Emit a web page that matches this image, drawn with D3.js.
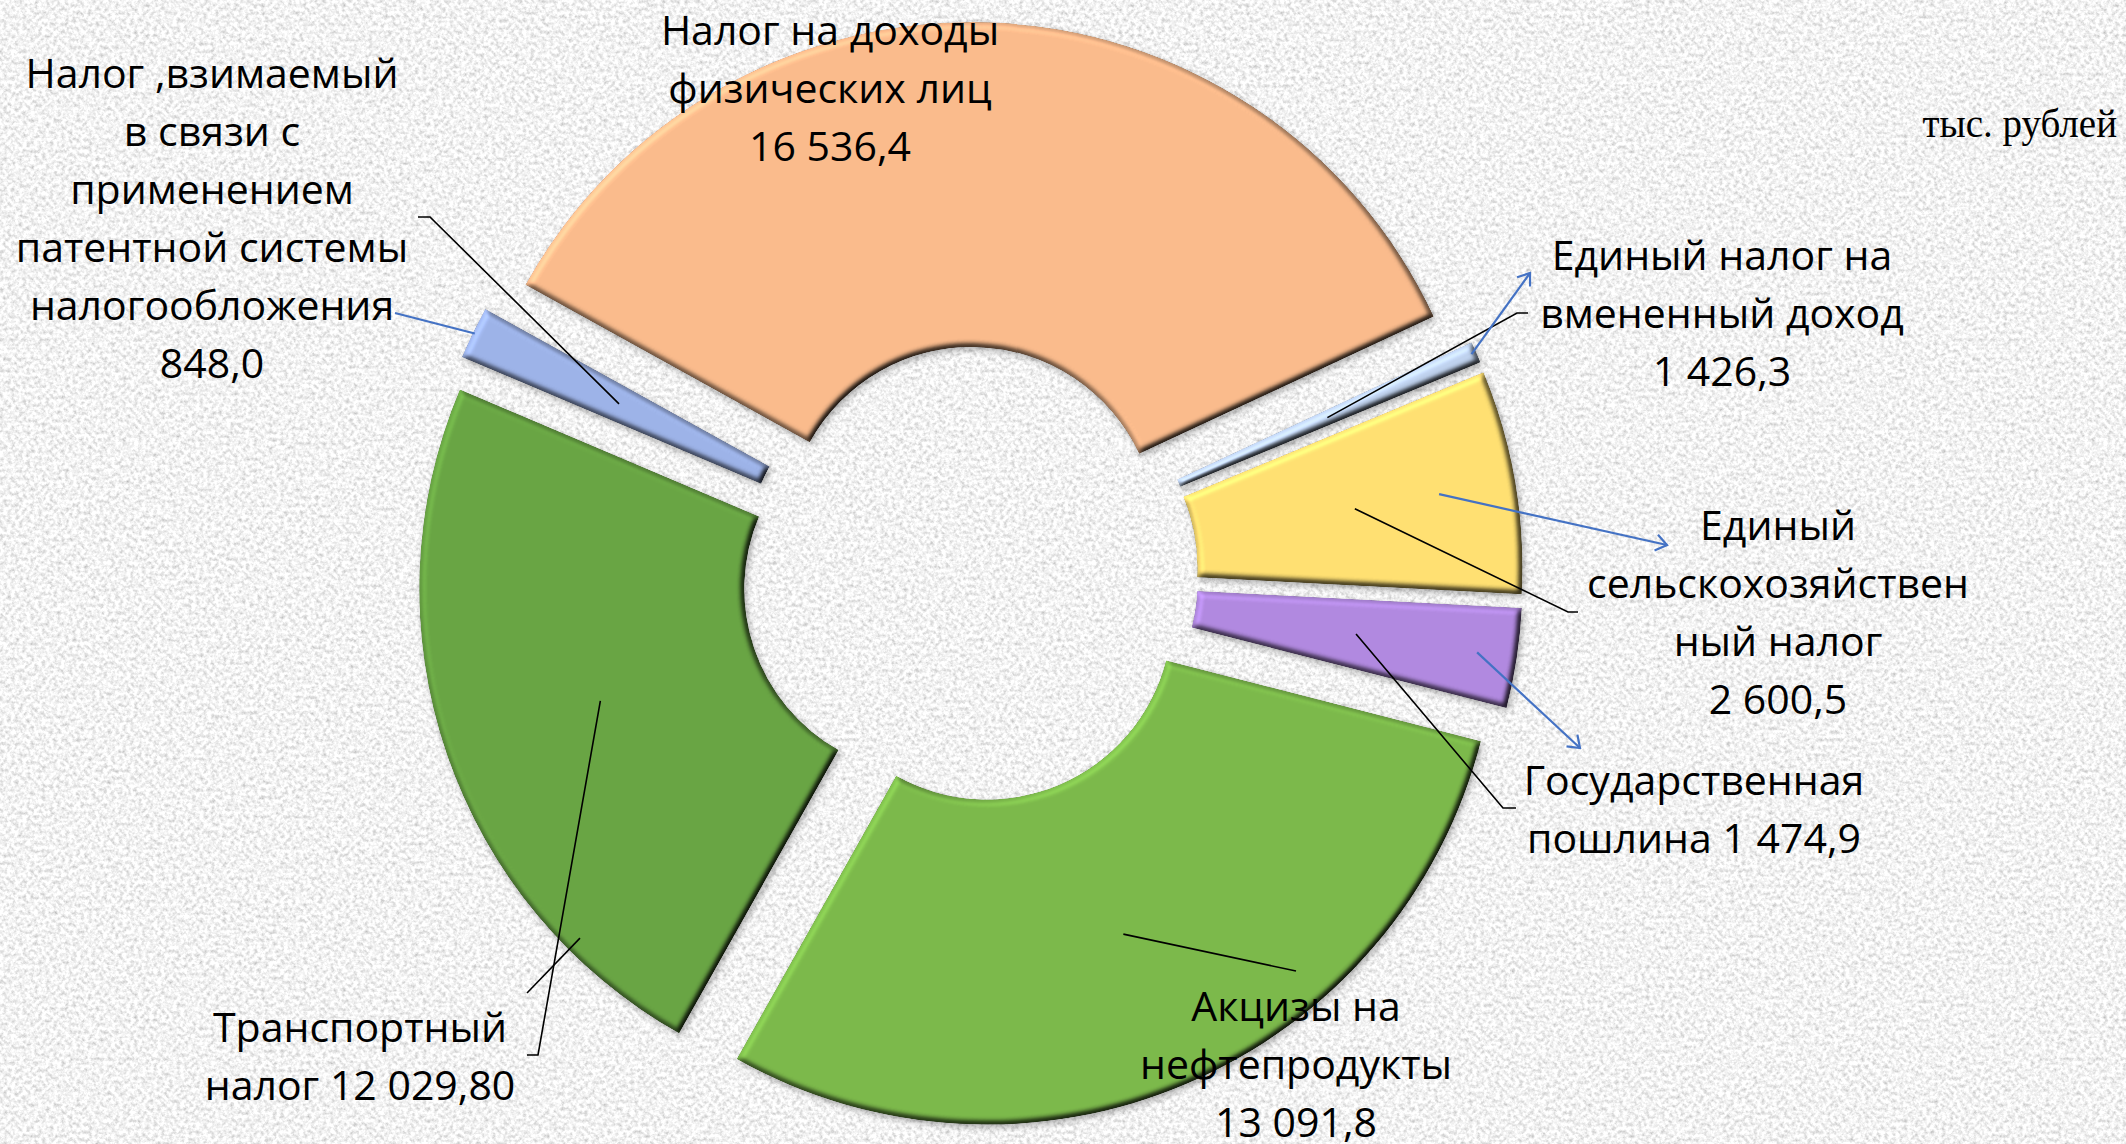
<!DOCTYPE html>
<html>
<head>
<meta charset="utf-8">
<script src="https://cdn.jsdelivr.net/npm/d3@7"></script>
<style>
  html, body { margin: 0; padding: 0; background: #e6e6e6; overflow: hidden; }
  svg { display: block; }
</style>
</head>
<body>
<svg id="DonutChart"></svg>
<script>
// slices clockwise, starting with the big one at the top
let categories = [
  "Налог на доходы физических лиц",
  "Единый налог на вмененный доход",
  "Единый сельскохозяйственный налог",
  "Государственная пошлина",
  "Акцизы на нефтепродукты",
  "Транспортный налог",
  "Налог ,взимаемый в связи с применением патентной системы налогообложения"
];

// values as printed on the chart, тыс. рублей
let labelValues = ["16 536,4", "1 426,3", "2 600,5", "1 474,9", "13 091,8", "12 029,80", "848,0"];

let sliceValues = [16800, 330, 3400, 1520, 14000, 11150, 800];

// label text broken into lines the way the chart shows it
let labelLines = [
  ["Налог на доходы", "физических лиц", "16 536,4"],
  ["Единый налог на", "вмененный доход", "1 426,3"],
  ["Единый", "сельскохозяйствен", "ный налог", "2 600,5"],
  ["Государственная", "пошлина 1 474,9"],
  ["Акцизы на", "нефтепродукты", "13 091,8"],
  ["Транспортный", "налог 12 029,80"],
  ["Налог ,взимаемый", "в связи с", "применением", "патентной системы", "налогообложения", "848,0"]
];

let unitLabel = "тыс. рублей";

function getConfig() {
  let width = 2126;
  let height = 1144;
  let container = d3.select("#DonutChart")
    .attr("width", width)
    .attr("height", height);

  return {
    width, height, container,
    cx: 970, cy: 575,
    innerRadius: 185, outerRadius: 510,
    explode: 43,
    startAngle: -61 * Math.PI / 180,
    colors: ["#fabb8c", "#bfd2ee", "#ffe072", "#b189e0", "#7cb94b", "#69a544", "#9db3e8"],
    font: "'Open Sans', 'Noto Sans', sans-serif",
    fontSize: 41,
    lineStep: 58,
    // centre x and first baseline of every label block
    labelPos: [[830, 45], [1722, 270], [1778, 540], [1694, 795], [1296, 1021], [360, 1042], [212, 88]],
    // black leader lines: from slice centroid through these points
    leaders: [
      { slice: 1, pts: [[1517, 313], [1528, 313]] },
      { slice: 2, pts: [[1568, 612], [1578, 612]] },
      { slice: 3, pts: [[1503, 808], [1516, 808]] },
      { slice: 4, pts: [[1296, 971]] },
      { slice: 5, pts: [[538, 1055], [527, 1055]] },
      { slice: 6, pts: [[430, 217], [418, 217]] },
      { slice: 5, r: 494, angle: 225, pts: [[527, 993]] }
    ],
    // hand drawn blue arrows
    arrows: [
      { slice: 1, r: 505, to: [1530, 273], head: true },
      { slice: 2, r: 433, to: [1667, 545], head: true },
      { slice: 3, r: 470, to: [1580, 748], head: true },
      { slice: 6, r: 508, to: [395, 313], head: false }
    ]
  };
}

function drawDefs(config) {
  let defs = config.container.append("defs");

  let paper = defs.append("filter").attr("id", "paper")
    .attr("x", 0).attr("y", 0).attr("width", "100%").attr("height", "100%");
  paper.append("feTurbulence")
    .attr("type", "fractalNoise").attr("baseFrequency", 0.26)
    .attr("numOctaves", 3).attr("seed", 7).attr("result", "n");
  paper.append("feColorMatrix").attr("in", "n").attr("type", "matrix")
    .attr("values", "0.85 0 0 0 0.47  0.85 0 0 0 0.47  0.85 0 0 0 0.47  0 0 0 0 1");

  let bevel = defs.append("filter").attr("id", "bevel")
    .attr("x", "-20%").attr("y", "-20%").attr("width", "140%").attr("height", "140%")
    .attr("color-interpolation-filters", "sRGB");
  bevel.append("feGaussianBlur").attr("in", "SourceAlpha").attr("stdDeviation", 3.2).attr("result", "blur");
  bevel.append("feDiffuseLighting").attr("in", "blur").attr("surfaceScale", 5.5)
    .attr("diffuseConstant", 1).attr("lighting-color", "#ffffff").attr("result", "light")
    .append("feDistantLight").attr("azimuth", 225).attr("elevation", 60);
  bevel.append("feComposite").attr("in", "SourceGraphic").attr("in2", "light")
    .attr("operator", "arithmetic").attr("k1", 1.155).attr("k2", 0).attr("k3", 0).attr("k4", 0)
    .attr("result", "lit");
  bevel.append("feComposite").attr("in", "lit").attr("in2", "SourceAlpha")
    .attr("operator", "in").attr("result", "shape");
  bevel.append("feGaussianBlur").attr("in", "SourceAlpha").attr("stdDeviation", 3).attr("result", "sb");
  bevel.append("feOffset").attr("in", "sb").attr("dx", 2).attr("dy", 3).attr("result", "so");
  bevel.append("feComponentTransfer").attr("in", "so").attr("result", "shadow")
    .append("feFuncA").attr("type", "linear").attr("slope", 0.3);
  let merge = bevel.append("feMerge");
  merge.append("feMergeNode").attr("in", "shadow");
  merge.append("feMergeNode").attr("in", "shape");

  defs.append("marker").attr("id", "arrowHead")
    .attr("viewBox", "-12 -10 14 20")
    .attr("refX", 0).attr("refY", 0)
    .attr("markerWidth", 14).attr("markerHeight", 20)
    .attr("markerUnits", "userSpaceOnUse")
    .attr("orient", "auto")
    .append("path")
    .attr("d", "M-11,-8 L0,0 L-11,8")
    .attr("fill", "none").attr("stroke", "#4472c4").attr("stroke-width", 2.2);
}

function drawBackground(config) {
  config.container.append("rect")
    .attr("width", config.width).attr("height", config.height)
    .attr("fill", "#e6e6e6")
    .attr("filter", "url(#paper)");
}

function getPie(config) {
  let pie = d3.pie().sort(null).value(d => d)
    .startAngle(config.startAngle)
    .endAngle(config.startAngle + 2 * Math.PI);
  let arc = d3.arc().innerRadius(config.innerRadius).outerRadius(config.outerRadius);
  return { slices: pie(sliceValues), arc };
}

function sliceOrigin(d, config) {
  let mid = (d.startAngle + d.endAngle) / 2;
  return [config.cx + Math.sin(mid) * config.explode, config.cy - Math.cos(mid) * config.explode];
}

function pointInSlice(d, r, angleDeg, config) {
  let o = sliceOrigin(d, config);
  let a = angleDeg === undefined ? (d.startAngle + d.endAngle) / 2 : angleDeg * Math.PI / 180;
  return [o[0] + Math.sin(a) * r, o[1] - Math.cos(a) * r];
}

function drawSlices(pieData, config) {
  let { slices, arc } = pieData;
  config.container.append("g").selectAll(".slice")
    .data(slices)
    .enter()
    .append("path")
    .attr("class", "slice")
    .attr("transform", d => `translate(${sliceOrigin(d, config)})`)
    .attr("d", arc)
    .attr("fill", (d, i) => config.colors[i])
    .attr("filter", "url(#bevel)");
}

function drawLeaders(pieData, config) {
  let { slices, arc } = pieData;
  let g = config.container.append("g");
  let line = d3.line();

  config.leaders.forEach(l => {
    let d = slices[l.slice];
    let start;
    if (l.r) {
      start = pointInSlice(d, l.r, l.angle, config);
    } else {
      let c = arc.centroid(d), o = sliceOrigin(d, config);
      start = [c[0] + o[0], c[1] + o[1]];
    }
    g.append("path")
      .attr("d", line([start].concat(l.pts)))
      .attr("fill", "none").attr("stroke", "#000").attr("stroke-width", 1.6);
  });

  config.arrows.forEach(a => {
    let start = pointInSlice(slices[a.slice], a.r, undefined, config);
    g.append("path")
      .attr("d", line([start, a.to]))
      .attr("fill", "none").attr("stroke", "#4472c4").attr("stroke-width", 2.2)
      .attr("marker-end", a.head ? "url(#arrowHead)" : null);
  });
}

function drawLabels(config) {
  let g = config.container.append("g")
    .style("font-family", config.font)
    .style("font-size", config.fontSize + "px")
    .attr("fill", "#000");

  labelLines.forEach((lines, i) => {
    let [x, y] = config.labelPos[i];
    let t = g.append("text").attr("text-anchor", "middle");
    lines.forEach((s, j) => {
      t.append("tspan").attr("x", x).attr("y", y + j * config.lineStep).text(s);
    });
  });

  config.container.append("text")
    .attr("x", 2117).attr("y", 137)
    .attr("text-anchor", "end")
    .style("font-family", "'Liberation Serif', 'Times New Roman', serif")
    .style("font-size", "39px")
    .text(unitLabel);
}

function showChart() {
  let config = getConfig();
  drawDefs(config);
  drawBackground(config);
  let pieData = getPie(config);
  drawSlices(pieData, config);
  drawLeaders(pieData, config);
  drawLabels(config);
}

showChart();
</script>
</body>
</html>
